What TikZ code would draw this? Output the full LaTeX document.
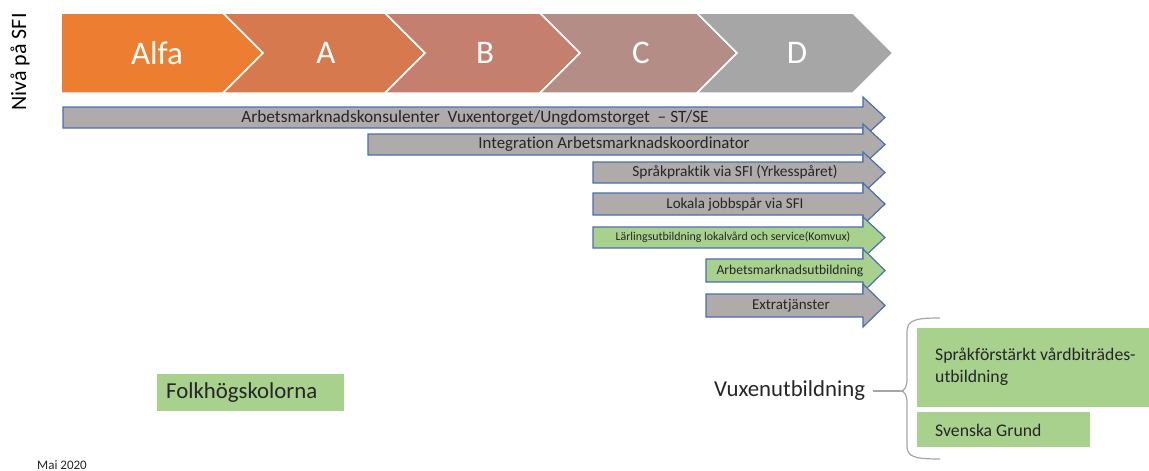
\documentclass[tikz,border=0pt]{standalone}
\usepackage{fontspec}
\setmainfont[Ligatures=NoCommon]{Carlito}
\definecolor{cAlfa}{HTML}{ED7D31}
\definecolor{cA}{HTML}{D6794F}
\definecolor{cB}{HTML}{C47F6F}
\definecolor{cC}{HTML}{B48D87}
\definecolor{cD}{HTML}{A6A6A6}
\definecolor{arrgray}{HTML}{AFABAB}
\definecolor{arrblue}{HTML}{4A6FB0}
\definecolor{lgreen}{HTML}{A9D18E}
\definecolor{txt}{HTML}{262626}
\definecolor{bracegray}{HTML}{A6A6A6}
\tikzset{
  chev/.style={draw=white,line width=1.5pt,line join=miter},
  chevlabel/.style={text=white,font=\fontsize{33}{36}\selectfont,inner sep=0pt},
  grayarrow/.style={draw=arrblue,fill=arrgray,line width=1.2pt,line join=miter},
  greenarrow/.style={draw=arrblue,fill=lgreen,line width=1.2pt,line join=miter},
  greenbox/.style={fill=lgreen,draw=none},
  plain/.style={text=txt,inner sep=0pt},
}
\newcommand\sfiarrow[8]{%
  \draw[#5] (#2,#3) -- (863,#3) -- (863,{#3-10}) -- (885,{(#3+#4)/2}) -- (863,{#4+10}) -- (863,#4) -- (#2,#4) -- cycle;
  \node[plain,font=#7] (#1) at (#6,{(#3+#4)/2}) {#8};}
\begin{document}
\begin{tikzpicture}[x=1pt,y=-1pt]
\useasboundingbox[fill=white] (0,0) rectangle (1149,471);
% chevrons
\fill[cAlfa,chev] (61,13) -- (223,13) -- (263,53) -- (223,93) -- (61,93) -- cycle;
\fill[cA,chev] (223,13) -- (385,13) -- (425,53) -- (385,93) -- (223,93) -- (263,53) -- cycle;
\fill[cB,chev] (385,13) -- (540,13) -- (580,53) -- (540,93) -- (385,93) -- (425,53) -- cycle;
\fill[cC,chev] (540,13) -- (697,13) -- (737,53) -- (697,93) -- (540,93) -- (580,53) -- cycle;
\fill[cD,chev] (697,13) -- (853,13) -- (893,53) -- (853,93) -- (697,93) -- (737,53) -- cycle;
\node[chevlabel] (lalfa) at (157,53) {Alfa};
\node[chevlabel] (la) at (326,53) {A};
\node[chevlabel] (lb) at (485,53) {B};
\node[chevlabel] (lc) at (641,53) {C};
\node[chevlabel] (ld) at (797,53) {D};
\node[plain,rotate=90,font=\fontsize{22}{26}\selectfont,text=black] (niva) at (20,62) {Nivå på SFI};
% arrows
\sfiarrow{a1}{63}{107}{128}{grayarrow}{475}{\fontsize{17.3}{19}\selectfont}{Arbetsmarknadskonsulenter\ \ Vuxentorget/Ungdomstorget\ \ – ST/SE}
\sfiarrow{a2}{368}{134}{155}{grayarrow}{614}{\fontsize{16.8}{19}\selectfont}{Integration Arbetsmarknadskoordinator}
\sfiarrow{a3}{593}{162}{183}{grayarrow}{735}{\fontsize{15.4}{18}\selectfont}{Språkpraktik via SFI (Yrkesspåret)}
\sfiarrow{a4}{593}{193}{215}{grayarrow}{735}{\fontsize{15}{18}\selectfont}{Lokala jobbspår via SFI}
\sfiarrow{a5}{593}{227}{248}{greenarrow}{733}{\fontsize{11.9}{14}\selectfont}{Lärlingsutbildning lokalvård och service(Komvux)}
\sfiarrow{a6}{706}{259}{282}{greenarrow}{790}{\fontsize{13.6}{15}\selectfont}{Arbetsmarknadsutbildning}
\sfiarrow{a7}{706}{294}{317}{grayarrow}{791}{\fontsize{15}{17}\selectfont}{Extratjänster}
% Folkhögskolorna
\node[greenbox,minimum width=187pt,minimum height=37pt,anchor=north west] (folkbox) at (157,374) {};
\node[plain,anchor=west,font=\fontsize{22.8}{26}\selectfont] (folk) at (166,393) {Folkhögskolorna};
% Vuxenutbildning
\node[plain,anchor=west,font=\fontsize{22.8}{26}\selectfont] (vux) at (714,391) {Vuxenutbildning};
\coordinate (cusp) at (900,391);
\draw[bracegray,line width=1.2pt] (vux.east) ++(8,0) -- (cusp);
\draw[bracegray,line width=1.2pt] (940,318) .. controls (915,318) and (907,320) .. (907,332) -- (907,378) .. controls (907,387) and (905,391) .. (cusp) .. controls (905,391) and (907,395) .. (907,404) -- (907,446) .. controls (907,457) and (915,459) .. (940,459);
\node[greenbox,minimum width=232pt,minimum height=79pt,anchor=north west] (b1) at (917,328) {};
\node[plain,anchor=north west,align=left,font=\fontsize{17.7}{22}\selectfont] (t1) at (935,348) {Språkförstärkt vårdbiträdes-\\utbildning};
\node[greenbox,minimum width=173pt,minimum height=35pt,anchor=north west] (b2) at (917,412) {};
\node[plain,anchor=west,font=\fontsize{17.7}{22}\selectfont] (t2) at (935,430) {Svenska Grund};
\node[plain,anchor=west,font=\fontsize{13}{15}\selectfont] (mai) at (37,465) {Mai 2020};
\end{tikzpicture}
\end{document}
